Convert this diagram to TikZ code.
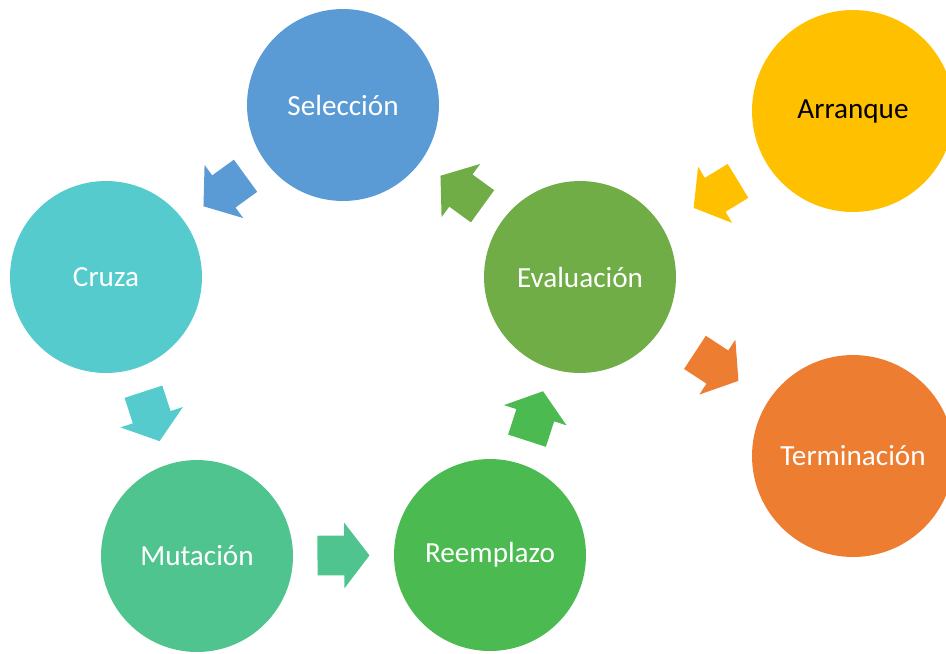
\documentclass[tikz,border=0pt]{standalone}
\usepackage{fontspec}
\setmainfont{Carlito}
\usepackage{xcolor}
\usepackage{tikz}
\usetikzlibrary{shapes.arrows,positioning,calc}

\definecolor{selblue}{HTML}{5B9BD5}
\definecolor{cruteal}{HTML}{55CBCD}
\definecolor{mutgreen}{HTML}{4FC48E}
\definecolor{reegreen}{HTML}{4BBA50}
\definecolor{evagreen}{HTML}{70AD47}
\definecolor{arryellow}{HTML}{FFC000}
\definecolor{terorange}{HTML}{ED7D31}

\newcommand{\shaft}{\rule{0pt}{0.78cm}}

\begin{document}
\begin{tikzpicture}[
  x=0.02cm, y=-0.02cm,
  stage/.style={circle, draw=none, minimum size=3.84cm, inner sep=0pt, text=white, font=\fontsize{16.6}{20}\selectfont},
  bigstage/.style={stage, minimum size=4.04cm},
  blockarrow/.style={single arrow, draw=none, minimum height=1.04cm,
    single arrow head extend=0.26cm, single arrow tip angle=105, inner sep=0pt,
    sloped, allow upside down, anchor=tail}
]
\useasboundingbox (0,0) rectangle (946,653);

% Cycle
\node[stage, fill=selblue] (sel) at (343,105) {Selección};
\node[stage, fill=cruteal] (cruza) at (106,277) {Cruza};
\node[stage, fill=mutgreen] (mut) at (197,556) {Mutación};
\node[stage, fill=reegreen] (reem) at (490,555) {Reemplazo};
\node[stage, fill=evagreen] (eval) at (580,277) {Evaluación};

% Start and end
\node[bigstage, fill=arryellow, text=black] (arr) at (853,111) {Arranque};
\node[bigstage, fill=terorange] (term) at (853,456) {Terminación};

% Arrows
\path (sel.center) -- (cruza.center) node[blockarrow, pos=0.41, fill=selblue] (a1) {\shaft};
\path (cruza.center) -- (mut.center) node[blockarrow, pos=0.41, fill=cruteal] (a2) {\shaft};
\path (mut.center) -- (reem.center) node[blockarrow, pos=0.41, fill=mutgreen] (a3) {\shaft};
\path (reem.center) -- (eval.center) node[blockarrow, pos=0.41, fill=reegreen] (a4) {\shaft};
\path (eval.center) -- (sel.center) node[blockarrow, pos=0.41, fill=evagreen] (a5) {\shaft};
\path (arr.center) -- (eval.center) node[blockarrow, pos=0.42, fill=arryellow] (a6) {\shaft};
\path (eval.center) -- (term.center) node[blockarrow, pos=0.42, fill=terorange] (a7) {\shaft};

\end{tikzpicture}
\end{document}
